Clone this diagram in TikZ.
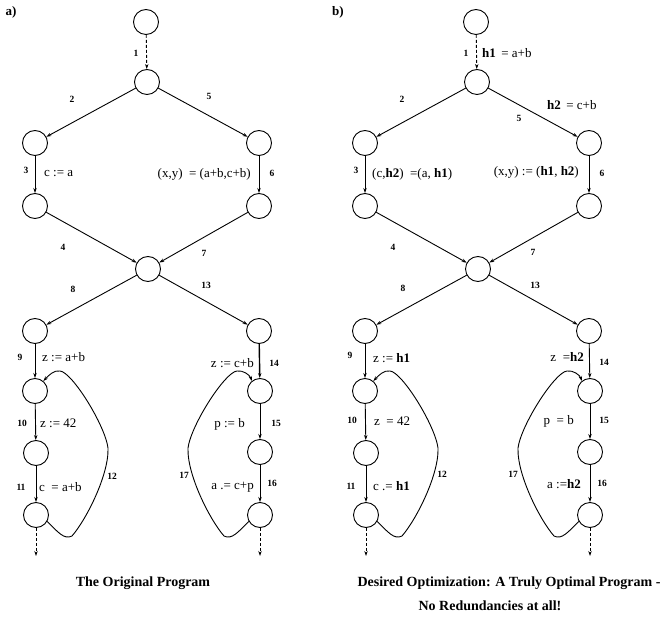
\documentclass[tikz,border=0pt]{standalone}
\usepackage{fontspec}
\setmainfont{Liberation Serif}
\usetikzlibrary{arrows.meta}
\begin{document}
\begin{tikzpicture}[x=1pt,y=-1pt,
  vtx/.style={draw,circle,line width=0.9pt,minimum size=25pt,inner sep=0pt},
  arr/.style={line width=0.9pt,-{Stealth[length=5pt,width=3.4pt]}},
  darr/.style={arr,densely dashed},
  num/.style={font=\fontsize{9.5}{10}\selectfont\bfseries,inner sep=0pt},
  stm/.style={font=\fontsize{13}{15}\selectfont,inner sep=0pt,anchor=west},
  stme/.style={stm,anchor=east},
  captxt/.style={font=\fontsize{14}{17}\selectfont\bfseries,inner sep=0pt}]
\useasboundingbox (0,0) rectangle (663,617);

% ---------- panel a ----------
\node[font=\fontsize{13}{15}\selectfont\bfseries,inner sep=0pt] (la) at (11,12) {a)};
\foreach \n/\x/\y in {T0/146/22,T1/147/82,L1/35/143,R1/259/143,L2/35/206,R2/259/206,
  M/148/269,L3/35/331,R3/259/331,L4/35/391,R4/260/391,L5/36/453,R5/260/452,L6/36/515,R6/260/515}
  \node[vtx] (a\n) at (\x,\y) {};
\coordinate (aE1) at (36,556);
\coordinate (aE2) at (260,556);
\draw[darr] (aT0) -- (aT1);
\draw[arr] (aT1) -- (aL1);
\draw[arr] (aT1) -- (aR1);
\draw[arr] (aL1) -- (aL2);
\draw[arr] (aR1) -- (aR2);
\draw[arr] (aL2) -- (aM);
\draw[arr] (aR2) -- (aM);
\draw[arr] (aM) -- (aL3);
\draw[arr] (aM) -- (aR3);
\draw[arr] (aL3) -- (aL4);
\draw[arr,line width=1.4pt] (aR3) -- (aR4);
\draw[arr] (aL4) -- (aL5);
\draw[arr] (aR4) -- (aR5);
\draw[arr] (aL5) -- (aL6);
\draw[arr] (aR5) -- (aR6);
\draw[darr] (aL6) -- (aE1);
\draw[darr] (aR6) -- (aE2);
\draw[arr] (aL6.330) .. controls (58,532) and (64,540) .. (72,536)
  .. controls (86,520) and (109,475) .. (108,448)
  .. controls (105,425) and (72,372) .. (60,371)
  .. controls (54,370) and (49,375) .. (aL4.50);
\draw[arr] (aR6.210) .. controls (238,532) and (232,540) .. (224,536)
  .. controls (210,520) and (187,475) .. (188,448)
  .. controls (191,425) and (225,372) .. (237,371)
  .. controls (243,370) and (250,375) .. (aR4.130);

\node[num] (a1) at (136,53) {1};
\node[num] (a2) at (72,99) {2};
\node[num] (a5) at (209,96) {5};
\node[num] (a3) at (26,170) {3};
\node[num] (a6) at (272,173) {6};
\node[num] (a4) at (63,247) {4};
\node[num] (a7) at (204,253) {7};
\node[num] (a8) at (73,289) {8};
\node[num] (a13) at (206,285) {13};
\node[num] (a9) at (20,357) {9};
\node[num] (a14) at (274,363) {14};
\node[num] (a10) at (22,423) {10};
\node[num] (a15) at (276,423) {15};
\node[num] (a12) at (112,476) {12};
\node[num] (a17) at (184,475) {17};
\node[num] (a11) at (21,487) {11};
\node[num] (a16) at (272,483) {16};

\node[stm] (as3) at (44,174) {c := a};
\node[stme] (as6) at (251,174) {(x,y) \ = (a+b,c+b)};
\node[stm] (as9) at (42,357) {z := a+b};
\node[stme] (as14) at (254,363) {z := c+b};
\node[stm] (as10) at (40,423) {z := 42};
\node[stme] (as15) at (245,424) {p := b};
\node[stm] (as11) at (39,487) {c \ = a+b};
\node[stme] (as16) at (254,487) {a .= c+p};

\node[captxt] (acap) at (143,583) {The Original Program};

% ---------- panel b ----------
\node[font=\fontsize{13}{15}\selectfont\bfseries,inner sep=0pt] (lb) at (338,12) {b)};
\foreach \n/\x/\y in {T0/146/22,T1/147/82,L1/35/143,R1/259/143,L2/35/206,R2/259/206,
  M/148/269,L3/35/331,R3/259/331,L4/35/391,R4/260/391,L5/36/453,R5/260/452,L6/36/515,R6/260/515}
  \node[vtx] (b\n) at (\x+330,\y) {};
\coordinate (bE1) at (366,556);
\coordinate (bE2) at (590,556);
\draw[darr] (bT0) -- (bT1);
\draw[arr] (bT1) -- (bL1);
\draw[arr] (bT1) -- (bR1);
\draw[arr] (bL1) -- (bL2);
\draw[arr] (bR1) -- (bR2);
\draw[arr] (bL2) -- (bM);
\draw[arr] (bR2) -- (bM);
\draw[arr] (bM) -- (bL3);
\draw[arr] (bM) -- (bR3);
\draw[arr] (bL3) -- (bL4);
\draw[arr] (bR3) -- (bR4);
\draw[arr] (bL4) -- (bL5);
\draw[arr] (bR4) -- (bR5);
\draw[arr] (bL5) -- (bL6);
\draw[arr] (bR5) -- (bR6);
\draw[darr] (bL6) -- (bE1);
\draw[darr] (bR6) -- (bE2);
\draw[arr] (bL6.330) .. controls (388,532) and (394,540) .. (402,536)
  .. controls (416,520) and (439,475) .. (438,448)
  .. controls (435,425) and (402,372) .. (390,371)
  .. controls (384,370) and (379,375) .. (bL4.50);
\draw[arr] (bR6.210) .. controls (568,532) and (562,540) .. (554,536)
  .. controls (540,520) and (517,475) .. (518,448)
  .. controls (521,425) and (555,372) .. (567,371)
  .. controls (573,370) and (580,375) .. (bR4.130);

\node[num] (b1) at (466,53) {1};
\node[num] (b2) at (402,99) {2};
\node[num] (b5) at (519,118) {5};
\node[num] (b3) at (356,170) {3};
\node[num] (b6) at (602,173) {6};
\node[num] (b4) at (393,247) {4};
\node[num] (b7) at (533,252) {7};
\node[num] (b8) at (403,288) {8};
\node[num] (b13) at (535,285) {13};
\node[num] (b9) at (350,355) {9};
\node[num] (b14) at (604,362) {14};
\node[num] (b10) at (352,420) {10};
\node[num] (b15) at (604,420) {15};
\node[num] (b12) at (442,474) {12};
\node[num] (b17) at (513,474) {17};
\node[num] (b11) at (351,486) {11};
\node[num] (b16) at (602,483) {16};

\node[stm] (bs1) at (482,53) {\textbf{h1} \,= a+b};
\node[stm] (bs5) at (547,105) {\textbf{h2} \,= c+b};
\node[stm] (bs3) at (372,174) {(c,\textbf{h2}) \ =(a, \textbf{h1})};
\node[stme] (bs6) at (579,172) {(x,y) := (\textbf{h1}, \textbf{h2})};
\node[stm] (bs9) at (373,358) {z := \textbf{h1}};
\node[stme] (bs14) at (584,357) {z \ =\textbf{h2}};
\node[stm] (bs10) at (374,421) {z \ = 42};
\node[stme] (bs15) at (574,421) {p \ = b};
\node[stm] (bs11) at (373,486) {c .= \textbf{h1}};
\node[stme] (bs16) at (581,484) {a :=\textbf{h2}};

\node[captxt] (bcap1) at (509,583) {Desired Optimization: A Truly Optimal Program -};
\node[captxt] (bcap2) at (490,606) {No Redundancies at all!};
\end{tikzpicture}
\end{document}
